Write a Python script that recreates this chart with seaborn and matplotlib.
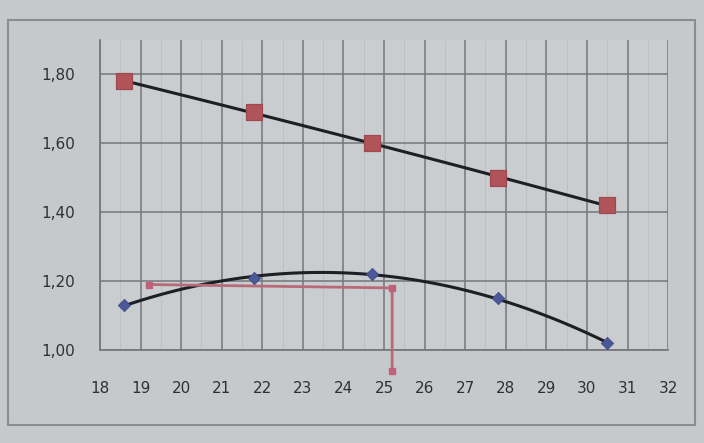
import numpy as np
import pandas as pd
import matplotlib.pyplot as plt
import seaborn as sns
from matplotlib.patches import Rectangle
from matplotlib.ticker import MultipleLocator

x_pts = [18.6, 21.8, 24.7, 27.8, 30.5]
serie_alta = [1.78, 1.69, 1.60, 1.50, 1.42]
serie_baixa = [1.13, 1.21, 1.22, 1.15, 1.02]
linha_x = [19.2, 25.2, 25.2]
linha_y = [1.19, 1.18, 0.94]

x_ticks = list(range(18, 33))
y_ticks = [1.00, 1.20, 1.40, 1.60, 1.80]
y_labels = ['1,00', '1,20', '1,40', '1,60', '1,80']

df = pd.DataFrame({'x': x_pts, 'alta': serie_alta, 'baixa': serie_baixa})

sns.set_theme(style="whitegrid")
plt.rcParams['font.family'] = ['DejaVu Sans']

fig = plt.figure(figsize=(7.04, 4.43), dpi=100)
fig.patch.set_facecolor('#c6c9cb')
ax = fig.add_axes([0.142, 0.21, 0.807, 0.70])
ax.set_facecolor('#cacdcf')

# moldura do gráfico
fig.patches.append(Rectangle((0.012, 0.04), 0.975, 0.915, transform=fig.transFigure,
                             fill=False, edgecolor='#8a8d8f', linewidth=1.5))

# linhas de tendência (polinomial de ordem 2, como no Excel)
sns.regplot(data=df, x='x', y='alta', order=2, ci=None, scatter=False, truncate=True,
            line_kws={'color': '#1c1f24', 'linewidth': 2.2}, ax=ax)
sns.regplot(data=df, x='x', y='baixa', order=2, ci=None, scatter=False, truncate=True,
            line_kws={'color': '#1c1f24', 'linewidth': 2.2}, ax=ax)

ax.plot(linha_x, linha_y, color='#b86a78', linewidth=2, marker='s', markersize=5,
        markerfacecolor='#c0607a', markeredgecolor='#c0607a', clip_on=False, zorder=3)

sns.scatterplot(data=df, x='x', y='alta', marker='s', s=120, color='#b0545a',
                edgecolor='#a04850', ax=ax, zorder=4)
sns.scatterplot(data=df, x='x', y='baixa', marker='D', s=40, color='#4a5898',
                edgecolor='#3a4680', ax=ax, zorder=4)

ax.set_xlim(18, 32)
ax.set_ylim(1.0, 1.9)
ax.set_xticks(x_ticks)
ax.set_yticks(y_ticks)
ax.set_yticklabels(y_labels)
ax.xaxis.set_minor_locator(MultipleLocator(0.5))
ax.set_xlabel('')
ax.set_ylabel('')
ax.grid(True, which='major', color='#75787a', linewidth=1.1)
ax.grid(True, which='minor', axis='x', color='#bdc0c2', linewidth=0.7)
ax.tick_params(which='minor', length=0)
for s in ax.spines.values():
    s.set_visible(False)
ax.spines['left'].set_visible(True)
ax.spines['left'].set_color('#75787a')
ax.spines['bottom'].set_visible(True)
ax.spines['bottom'].set_color('#75787a')
ax.tick_params(axis='both', which='major', labelsize=11, labelcolor='#2e3033')
ax.tick_params(axis='x', which='major', pad=16)
ax.tick_params(axis='y', which='major', pad=12)

fig.savefig('out.png', dpi=100, facecolor=fig.get_facecolor())
